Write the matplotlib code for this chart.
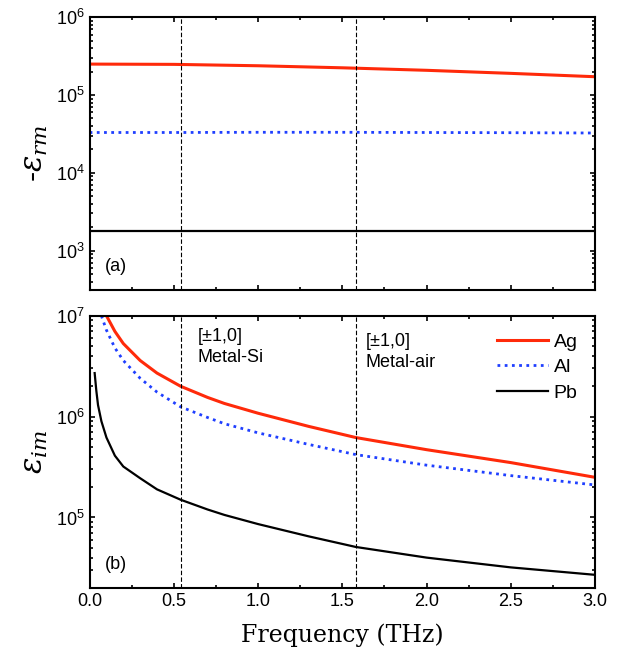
import numpy as np
import matplotlib
matplotlib.use("Agg")
import matplotlib.pyplot as plt

plt.rcParams["font.family"] = ["Liberation Sans", "DejaVu Sans"]
plt.rcParams["mathtext.fontset"] = "dejavuserif"

# top panel: -eps_rm
f_top = [0.0, 0.5, 1.0, 1.5, 2.0, 2.5, 3.0]
ag_rm = [2.5e5, 2.48e5, 2.38e5, 2.24e5, 2.08e5, 1.9e5, 1.72e5]
al_rm = [3.3e4, 3.3e4, 3.32e4, 3.32e4, 3.3e4, 3.28e4, 3.25e4]
pb_rm = [1.8e3, 1.8e3, 1.8e3, 1.8e3, 1.8e3, 1.8e3, 1.8e3]

# bottom panel: eps_im
f_ag = [0.1, 0.15, 0.2, 0.3, 0.4, 0.54, 0.7, 0.8, 1.0, 1.3, 1.58, 2.0, 2.5, 3.0]
ag_im = [1e7, 7.0e6, 5.3e6, 3.6e6, 2.7e6, 2.0e6, 1.55e6, 1.35e6, 1.08e6, 8.0e5, 6.2e5, 4.7e5, 3.5e5, 2.5e5]
f_al = [0.07, 0.1, 0.15, 0.2, 0.3, 0.4, 0.54, 0.7, 0.8, 1.0, 1.3, 1.58, 2.0, 2.5, 3.0]
al_im = [1e7, 7.2e6, 4.8e6, 3.6e6, 2.4e6, 1.75e6, 1.25e6, 9.8e5, 8.5e5, 6.9e5, 5.3e5, 4.2e5, 3.3e5, 2.6e5, 2.1e5]
f_pb = [0.03, 0.04, 0.05, 0.07, 0.1, 0.15, 0.2, 0.3, 0.4, 0.54, 0.7, 0.8, 1.0, 1.3, 1.58, 2.0, 2.5, 3.0]
pb_im = [2.7e6, 1.8e6, 1.3e6, 9.0e5, 6.2e5, 4.1e5, 3.2e5, 2.45e5, 1.9e5, 1.5e5, 1.2e5, 1.06e5, 8.6e4, 6.5e4, 5.1e4, 4.0e4, 3.2e4, 2.7e4]

vlines = [0.54, 1.58]

fig = plt.figure(figsize=(6.31, 6.64), dpi=100)
ax1 = fig.add_axes([0.142, 0.563, 0.801, 0.411])
ax2 = fig.add_axes([0.142, 0.1145, 0.801, 0.41], sharex=ax1)

ax1.plot(f_top, ag_rm, color="#ff2a0a", lw=2.2)
ax1.plot(f_top, al_rm, color="#1f3fff", lw=2, ls=(0, (1, 1.6)))
ax1.plot(f_top, pb_rm, color="black", lw=1.6)
ax1.set_yscale("log")
ax1.set_ylim(3.1e2, 1e6)
ax1.set_ylabel(r"-$\varepsilon_{rm}$", fontsize=22)
ax1.text(0.03, 0.07, "(a)", transform=ax1.transAxes, fontsize=13)
plt.setp(ax1.get_xticklabels(), visible=False)

ax2.plot(f_ag, ag_im, color="#ff2a0a", lw=2.2, label="Ag")
ax2.plot(f_al, al_im, color="#1f3fff", lw=2, ls=(0, (1, 1.6)), label="Al")
ax2.plot(f_pb, pb_im, color="black", lw=1.6, label="Pb")
ax2.set_yscale("log")
ax2.set_ylim(2e4, 1e7)
ax2.set_xlim(0, 3.0)
ax2.set_xticks(np.arange(0, 3.01, 0.5))
ax2.set_ylabel(r"$\varepsilon_{im}$", fontsize=22)
ax2.set_xlabel("Frequency (THz)", fontsize=17, family="DejaVu Serif", labelpad=10)
ax2.text(0.03, 0.07, "(b)", transform=ax2.transAxes, fontsize=13)
ax2.text(0.64, 7.5e6, "[\u00b11,0]\nMetal-Si", fontsize=13, va="top", linespacing=1.3)
ax2.text(1.64, 6.8e6, "[\u00b11,0]\nMetal-air", fontsize=13, va="top", linespacing=1.3)
ax2.legend(loc="upper right", frameon=False, fontsize=14, handlelength=2.6,
           handletextpad=0.3, labelspacing=0.4, borderaxespad=0.5)

for ax in (ax1, ax2):
    for v in vlines:
        ax.axvline(v, color="black", lw=0.8, ls=(0, (4, 2)))
    ax.tick_params(which="both", direction="in", top=True, right=True, labelsize=13, width=1.2)
    for s in ax.spines.values():
        s.set_linewidth(1.5)
    ax.set_xticks(np.arange(0, 3.01, 0.25), minor=True)

fig.savefig("out.png", dpi=100)
